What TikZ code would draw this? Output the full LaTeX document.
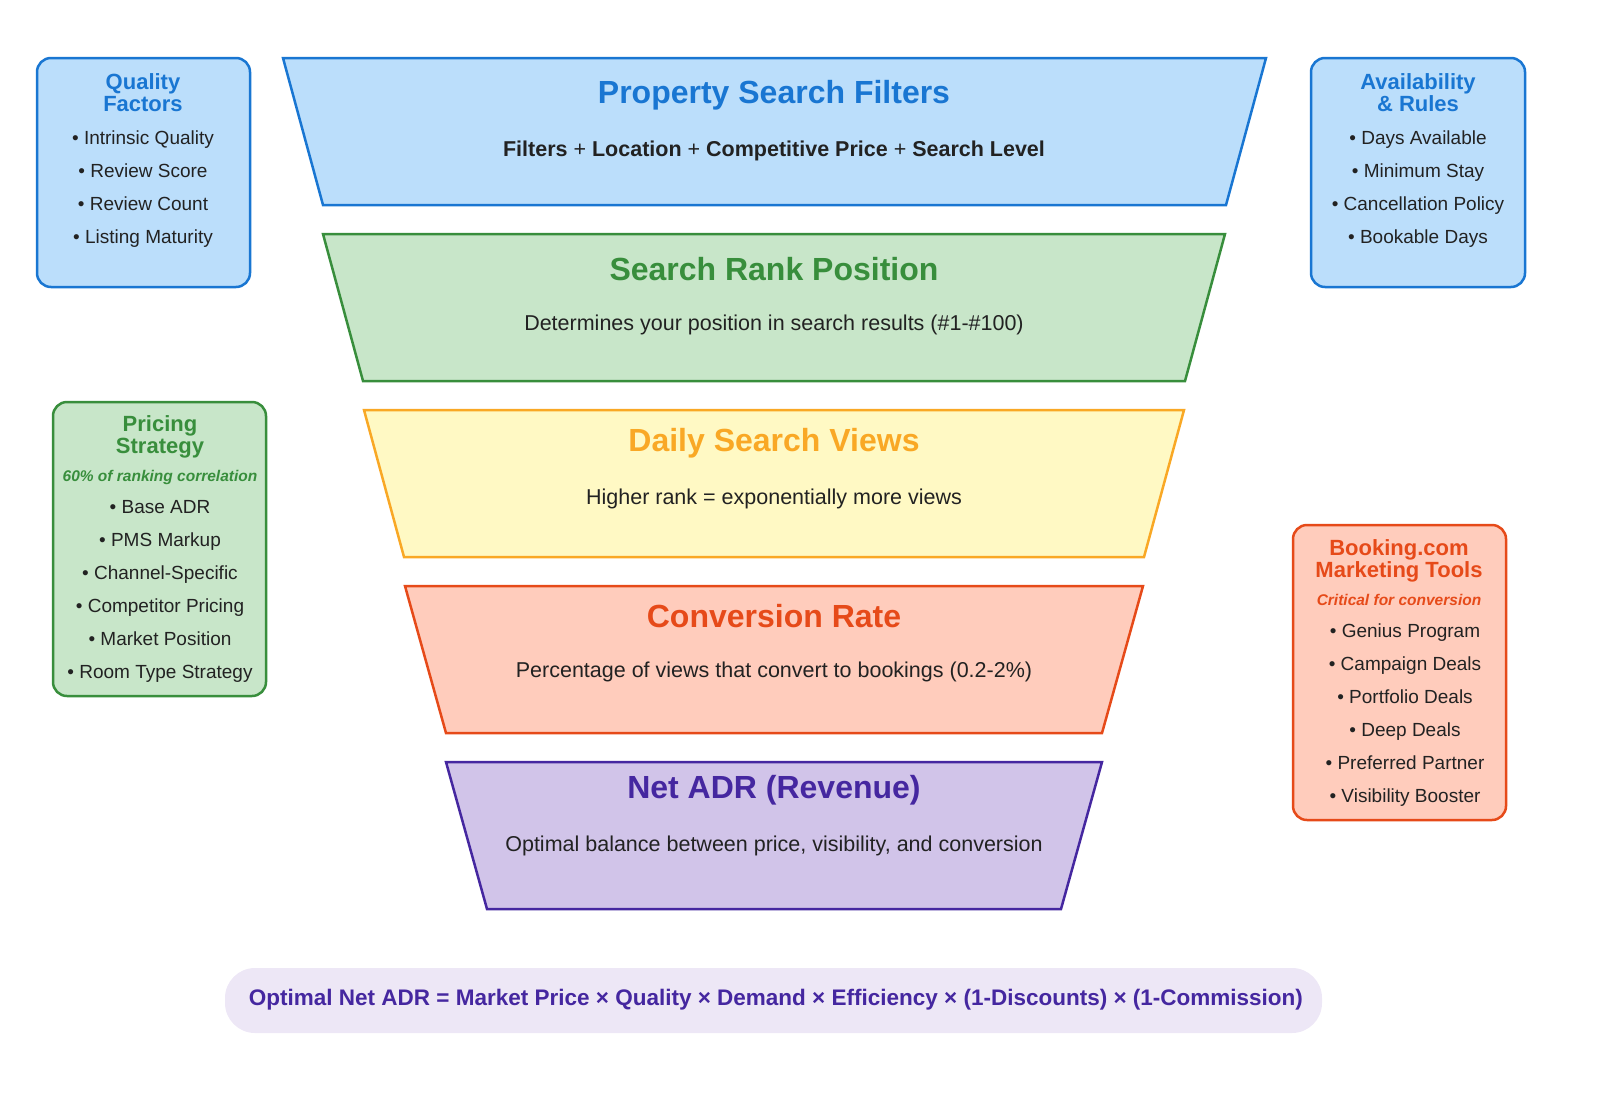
\documentclass[tikz,border=0pt]{standalone}
\usepackage{fontspec}
\setmainfont{Liberation Sans}
\definecolor{bF}{HTML}{BBDEFB}\definecolor{bS}{HTML}{1976D2}
\definecolor{gF}{HTML}{C8E6C9}\definecolor{gS}{HTML}{388E3C}
\definecolor{yF}{HTML}{FFF9C4}\definecolor{yS}{HTML}{F9A825}
\definecolor{oF}{HTML}{FFCCBC}\definecolor{oS}{HTML}{E64A19}
\definecolor{pF}{HTML}{D1C4E9}\definecolor{pS}{HTML}{4527A0}
\definecolor{fF}{HTML}{EDE7F6}\definecolor{tx}{HTML}{222222}
\begin{document}
\begin{tikzpicture}[x=1pt,y=-1pt,
 trap/.style={line width=2.5pt,line join=miter},
 ttl/.style={font=\fontsize{32}{36}\selectfont\bfseries},
 sub/.style={font=\fontsize{21.5}{25}\selectfont,text=tx},
 side/.style={rounded corners=14pt,line width=2.5pt},
 sttl/.style={font=\fontsize{22}{25}\selectfont\bfseries,align=center},
 bul/.style={font=\fontsize{19}{22}\selectfont,text=tx,text height=14pt,text depth=4pt},
 ital/.style={font=\fontsize{15.5}{18}\selectfont\bfseries\itshape}]
\useasboundingbox (0,0) rectangle (1600,1092);
\draw[trap,fill=bF,draw=bS] (283,58)--(1266,58)--(1226,205)--(323,205)--cycle;
\node[ttl,text=bS] (t1) at (774,95) {Property Search Filters};
\node[sub,font=\fontsize{21.5}{25}\selectfont\bfseries] (s1) at (774,151) {Filters \textmd{+} Location \textmd{+} Competitive Price \textmd{+} Search Level};
\draw[trap,fill=gF,draw=gS] (323,234)--(1225,234)--(1185,381)--(363,381)--cycle;
\node[ttl,text=gS] (t2) at (774,269) {Search Rank Position};
\node[sub] (s2) at (774,325) {Determines your position in search results (\#1-\#100)};
\draw[trap,fill=yF,draw=yS] (364,410)--(1184,410)--(1144,557)--(404,557)--cycle;
\node[ttl,text=yS] (t3) at (774,443) {Daily Search Views};
\node[sub] (s3) at (774,499) {Higher rank = exponentially more views};
\draw[trap,fill=oF,draw=oS] (405,586)--(1143,586)--(1102,733)--(446,733)--cycle;
\node[ttl,text=oS] (t4) at (774,616) {Conversion Rate};
\node[sub] (s4) at (774,672) {Percentage of views that convert to bookings (0.2-2\%)};
\draw[trap,fill=pF,draw=pS] (446,762)--(1102,762)--(1061,909)--(487,909)--cycle;
\node[ttl,text=pS] (t5) at (774,790) {Net ADR (Revenue)};
\node[sub] (s5) at (774,846) {Optimal balance between price, visibility, and conversion};
% side boxes
\draw[side,fill=bF,draw=bS] (37,58) rectangle (250,287);
\node[sttl,text=bS] (q) at (143,93) {Quality\\[-3pt]Factors};
\foreach \t [count=\i] in {Intrinsic Quality,Review Score,Review Count,Listing Maturity}
 \node[bul] (q\i) at (143,106+33*\i) {• \t};
\draw[side,fill=bF,draw=bS] (1311,58) rectangle (1525,287);
\node[sttl,text=bS] (a) at (1418,93) {Availability\\[-3pt]\& Rules};
\foreach \t [count=\i] in {Days Available,Minimum Stay,Cancellation Policy,Bookable Days}
 \node[bul] (a\i) at (1418,106+33*\i) {• \t};
\draw[side,fill=gF,draw=gS] (53,402) rectangle (266,696);
\node[sttl,text=gS] (p) at (160,437) {Pricing\\[-3pt]Strategy};
\node[ital,text=gS] (pi) at (160,477) {60\% of ranking correlation};
\foreach \t [count=\i] in {Base ADR,PMS Markup,Channel-Specific,Competitor Pricing,Market Position,Room Type Strategy}
 \node[bul] (p\i) at (160,475+33*\i) {• \t};
\draw[side,fill=oF,draw=oS] (1293,525) rectangle (1506,820);
\node[sttl,text=oS] (b) at (1399,561) {Booking.com\\[-3pt]Marketing Tools};
\node[ital,text=oS] (bi) at (1399,600) {Critical for conversion};
\foreach \t [count=\i] in {Genius Program,Campaign Deals,Portfolio Deals,Deep Deals,Preferred Partner,Visibility Booster}
 \node[bul] (b\i) at (1405,599+33*\i) {• \t};
% formula
\fill[fF,rounded corners=30pt] (225,968) rectangle (1322,1033);
\node[font=\fontsize{22.5}{26}\selectfont\bfseries,text=pS] (f) at (776,1000) {Optimal Net ADR = Market Price × Quality × Demand × Efficiency × (1-Discounts) × (1-Commission)};
\end{tikzpicture}
\end{document}
